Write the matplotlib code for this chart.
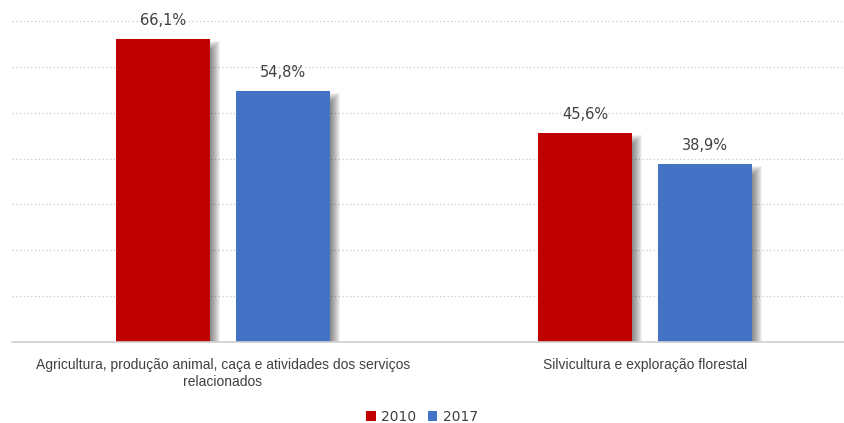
import matplotlib
matplotlib.use("Agg")
import matplotlib.pyplot as plt
from matplotlib.patches import Patch
import numpy as np

categories = ["Agricultura, produção animal, caça e atividades dos serviços\nrelacionados",
              "Silvicultura e exploração florestal"]
series_names = ["2010", "2017"]
values_2010 = [66.1, 45.6]
values_2017 = [54.8, 38.9]
colors = ["#C00000", "#4472C4"]

fig = plt.figure(figsize=(8.44, 4.23), dpi=100)
ax = fig.add_axes([12/844, (423-342)/423, 832/844, (342-21)/423])

x = np.arange(len(categories))
bw = 0.2227
off = (bw + 0.0616) / 2
px_x = 1/422
px_y = 70/321
series = [values_2010, values_2017]
for i, (vals, c) in enumerate(zip(series, colors)):
    pos = x + (-off if i == 0 else off)
    # soft shadow (stacked translucent rectangles)
    for k in range(1, 11):
        left = pos - bw/2 + 4*px_x
        right = pos + bw/2 + k*px_x
        top = np.array(vals) - (12 - k)*px_y
        ax.bar(left, top, width=right - left, align="edge", bottom=0,
               color="black", alpha=0.055, zorder=2, linewidth=0)
    ax.bar(pos, vals, width=bw, color=c, zorder=3, linewidth=0)
    for p, v in zip(pos, vals):
        ax.text(p, v + 2.4, f"{v:.1f}%".replace(".", ","), ha="center", va="bottom",
                fontsize=10.5, color="#404040", family=["DejaVu Sans"], zorder=4)

ax.set_xlim(-0.5, 1.5 - 12/422)
ax.set_ylim(0, 70)
ax.set_yticks(np.arange(0, 71, 10))
ax.yaxis.grid(True, linestyle=(0, (1, 2)), color="#C8C8C8", linewidth=0.9)
ax.set_axisbelow(True)
ax.tick_params(left=False, labelleft=False, bottom=False)
for s in ["top", "right", "left"]:
    ax.spines[s].set_visible(False)
ax.spines["bottom"].set_color("#D0D0D0")
ax.spines["bottom"].set_linewidth(1.2)
ax.spines["bottom"].set_zorder(5)
ax.set_xticks(x)
ax.set_xticklabels(categories, fontsize=10, color="#404040",
                   family=["Liberation Sans Narrow", "Liberation Sans", "DejaVu Sans"],
                   linespacing=1.3)
ax.tick_params(axis="x", pad=8)

handles = [Patch(facecolor=c, label=n) for c, n in zip(colors, series_names)]
fig.legend(handles=handles, loc="center", bbox_to_anchor=(0.5, 1 - 417/423), ncol=2,
           frameon=False, handlelength=0.7, handleheight=0.7,
           handletextpad=0.4, columnspacing=0.8,
           prop={"family": ["DejaVu Sans"], "size": 10})
for t in fig.legends[0].get_texts():
    t.set_color("#404040")

fig.savefig("out.png", dpi=100)
